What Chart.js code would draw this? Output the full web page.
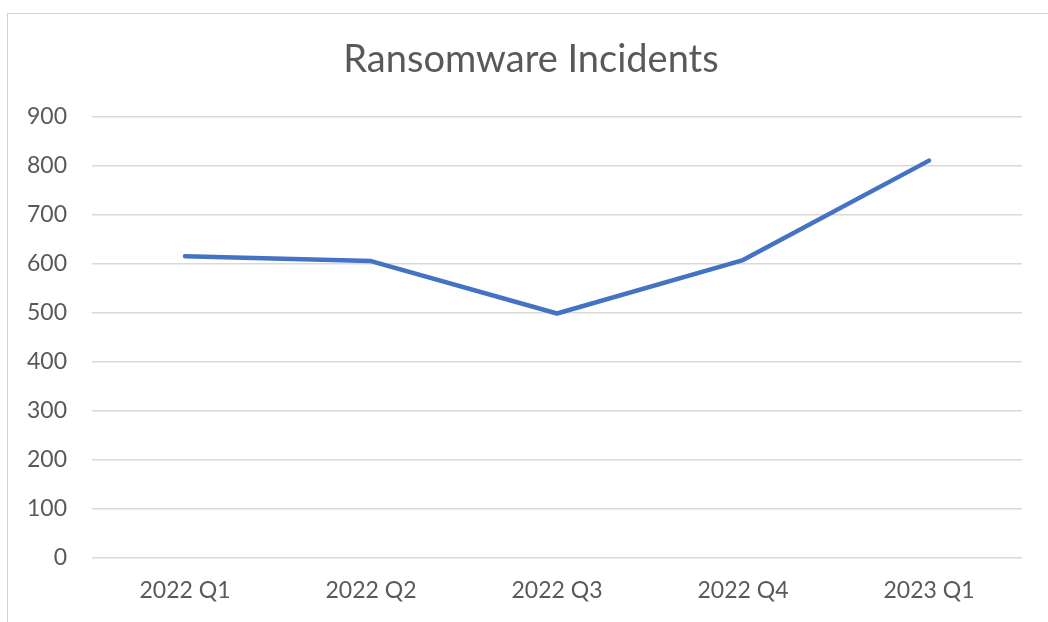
<!DOCTYPE html>
<html>
<head>
<meta charset="utf-8">
<script src="https://cdn.jsdelivr.net/npm/chart.js@4"></script>
<style>
  html, body { margin: 0; padding: 0; background: #fff; }
  #wrap { position: relative; width: 1048px; height: 622px; }
  #frame { position: absolute; left: 7px; top: 13px; width: 1050px; height: 620px; border: 1px solid #d0d0d0; box-sizing: border-box; }
  canvas { position: absolute; left: 0; top: 0; }
</style>
</head>
<body>
<div id="wrap">
  <div id="frame"></div>
  <canvas id="c" width="1048" height="622"></canvas>
</div>
<script>
const categories = ["2022 Q1", "2022 Q2", "2022 Q3", "2022 Q4", "2023 Q1"];
const incidents = [616, 606, 499, 608, 811];
const yTicks = [0, 100, 200, 300, 400, 500, 600, 700, 800, 900];

const FONT = "Lato, 'Open Sans', sans-serif";
const TXT = "#595959";

// Shift the title's box so it is centred over the chart frame
const titleShift = {
  id: "titleShift",
  afterLayout(chart) {
    if (chart.titleBlock) { chart.titleBlock.left += 40; }
  }
};

new Chart(document.getElementById("c"), {
  type: "line",
  data: {
    labels: categories,
    datasets: [{
      label: "Ransomware Incidents",
      data: incidents,
      borderColor: "#4472C4",
      borderWidth: 4.5,
      pointRadius: 0,
      tension: 0,
      fill: false,
      borderCapStyle: "round",
      borderJoinStyle: "round"
    }]
  },
  plugins: [titleShift],
  options: {
    responsive: false,
    animation: false,
    layout: { padding: { left: 0, right: 26, top: 0, bottom: 0 } },
    plugins: {
      legend: { display: false },
      tooltip: { enabled: false },
      title: {
        display: true,
        text: "Ransomware Incidents",
        color: TXT,
        font: { family: FONT, size: 38, weight: "normal", lineHeight: 1.2 },
        padding: { top: 37, bottom: 34.4 }
      }
    },
    scales: {
      x: {
        offset: true,
        grid: { display: false, drawTicks: false },
        border: { display: false },
        ticks: { color: TXT, font: { family: FONT, size: 23 }, padding: 19, maxRotation: 0 },
        afterFit: (s) => { s.height = 64; }
      },
      y: {
        min: 0, max: 900,
        afterBuildTicks: (s) => { s.ticks = yTicks.map(v => ({ value: v })); },
        grid: { color: "#d9d9d9", lineWidth: 1.5, drawTicks: false },
        border: { display: false },
        ticks: { color: TXT, font: { family: FONT, size: 23 }, padding: 25 },
        afterFit: (s) => { s.width = 92; }
      }
    }
  }
});
</script>
</body>
</html>
